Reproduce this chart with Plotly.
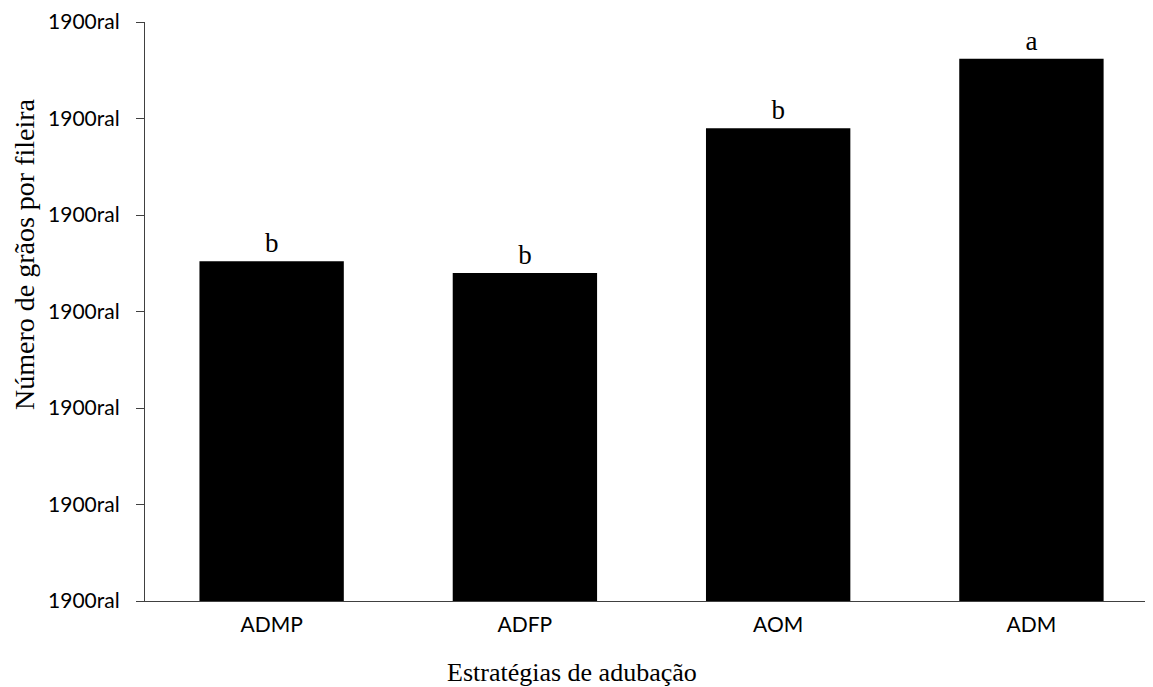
import plotly.graph_objects as go

categories = ["ADMP", "ADFP", "AOM", "ADM"]
values = [17.6, 17.0, 24.5, 28.1]
letters = ["b", "b", "b", "a"]
tick_vals = [0, 5, 10, 15, 20, 25, 30]
tick_text = ["1900ral"] * 7

OFF = 8  # page body margin
W, H = 1153 - OFF, 687 - OFF
L, R, T, B = 145 - OFF, 0, 22 - OFF, 687 - 601
pw = W - L - R
ph = H - T - B

fig = go.Figure()
fig.add_trace(go.Bar(
    x=categories, y=values,
    marker=dict(color="black", line=dict(width=0)),
    text=letters, textposition="outside",
    textfont=dict(family="Liberation Serif", size=27, color="black"),
    cliponaxis=False,
))

def px_x(p):
    return (p - OFF - L) / pw

def px_y(p):
    return (H - B - (p - OFF)) / ph

fig.update_layout(
    width=W, height=H,
    margin=dict(l=L, r=R, t=T, b=B),
    plot_bgcolor="white", paper_bgcolor="white",
    bargap=0.43,
    showlegend=False,
    xaxis=dict(
        range=[-0.5, 3.48],
        showline=True, linecolor="#404040", linewidth=1.3,
        ticks="outside", ticklen=5, tickcolor="rgba(0,0,0,0)",
        tickfont=dict(family="Lato", size=21, color="black"),
        showgrid=False, zeroline=False,
    ),
    yaxis=dict(
        range=[0, 30],
        tickvals=tick_vals, ticktext=tick_text,
        showline=True, linecolor="#404040", linewidth=1.3,
        ticks="outside", ticklen=8, tickcolor="#404040", tickwidth=1.3,
        ticklabelstandoff=12,
        tickfont=dict(family="Lato", size=21, color="black"),
        showgrid=False, zeroline=False,
    ),
    annotations=[
        dict(text="Número de grãos por fileira", xref="paper", yref="paper",
             x=px_x(24), y=px_y(254), textangle=-90, showarrow=False,
             xanchor="center", yanchor="middle", borderpad=0,
             font=dict(family="Liberation Serif", size=28, color="black")),
        dict(text="Estratégias de adubação", xref="paper", yref="paper",
             x=px_x(572), y=px_y(672), showarrow=False,
             xanchor="center", yanchor="middle", borderpad=0,
             font=dict(family="Liberation Serif", size=26, color="black")),
    ],
)

fig.write_html("out.html")
